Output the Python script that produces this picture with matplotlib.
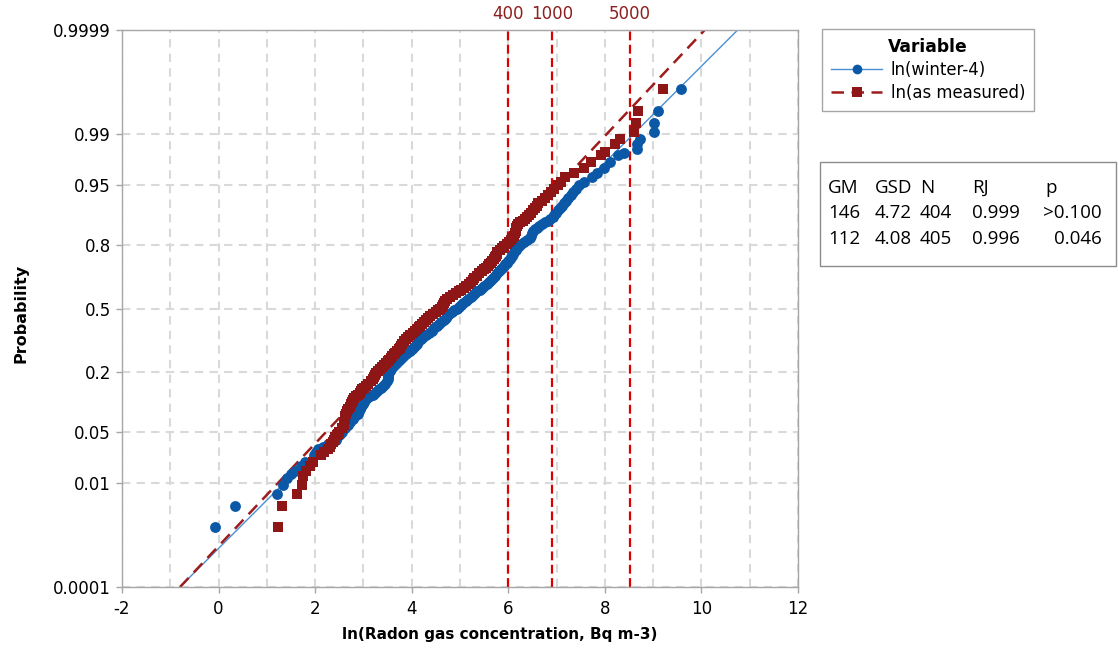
import numpy as np
import matplotlib
matplotlib.use("Agg")
import matplotlib.pyplot as plt
from matplotlib.lines import Line2D
from matplotlib.patches import Rectangle
from statistics import NormalDist

plt.rcParams["axes.unicode_minus"] = False

# ---------------- data ----------------
# ln(winter-4): cumulative probability and ln value of the plotted points
winter_p = [0.00173, 0.0042, 0.00668, 0.00915, 0.0116, 0.0135, 0.015, 0.0175, 0.02, 0.025,
            0.03, 0.035, 0.04, 0.045, 0.05, 0.06, 0.07, 0.08, 0.09, 0.10,
            0.11, 0.12, 0.13, 0.14, 0.15, 0.165, 0.18, 0.195, 0.21, 0.225,
            0.24, 0.255, 0.27, 0.285, 0.30, 0.32, 0.34, 0.36, 0.38, 0.40,
            0.42, 0.44, 0.46, 0.48, 0.50, 0.52, 0.54, 0.56, 0.58, 0.60,
            0.62, 0.64, 0.66, 0.68, 0.70, 0.715, 0.73, 0.745, 0.76, 0.775,
            0.79, 0.805, 0.82, 0.835, 0.85, 0.86, 0.87, 0.88, 0.89, 0.90,
            0.91, 0.92, 0.93, 0.94, 0.95, 0.955, 0.96, 0.965, 0.97, 0.975,
            0.98, 0.9810, 0.9834, 0.9859, 0.9884, 0.9909, 0.9933, 0.9958, 0.9983]
winter_x = [-0.08, 0.33, 1.20, 1.34, 1.41, 1.49, 1.58, 1.71, 1.78, 1.97,
            2.06, 2.27, 2.43, 2.49, 2.56, 2.68, 2.78, 2.88, 2.93, 2.99,
            3.03, 3.14, 3.24, 3.32, 3.40, 3.49, 3.50, 3.51, 3.57, 3.64,
            3.70, 3.78, 3.86, 3.96, 4.03, 4.10, 4.19, 4.29, 4.41, 4.48,
            4.56, 4.66, 4.74, 4.83, 4.93, 5.02, 5.12, 5.22, 5.31, 5.41,
            5.50, 5.60, 5.68, 5.77, 5.85, 5.91, 5.98, 6.03, 6.08, 6.12,
            6.18, 6.26, 6.39, 6.48, 6.51, 6.59, 6.70, 6.82, 6.92, 6.99,
            7.07, 7.15, 7.23, 7.35, 7.46, 7.57, 7.73, 7.83, 7.98, 8.10,
            8.27, 8.40, 8.66, 8.66, 8.73, 9.02, 9.02, 9.11, 9.58]
# further points in the dense central band
winter_mid_p = [0.0275, 0.0325, 0.0375, 0.0425, 0.0475, 0.055, 0.065, 0.075, 0.085, 0.095,
                0.105, 0.115, 0.125, 0.135, 0.145, 0.1575, 0.1725, 0.1875, 0.2025, 0.2175,
                0.2325, 0.2475, 0.2625, 0.2775, 0.2925, 0.31, 0.33, 0.35, 0.37, 0.39,
                0.41, 0.43, 0.45, 0.47, 0.49, 0.51, 0.53, 0.55, 0.57, 0.59,
                0.61, 0.63, 0.65, 0.67, 0.69, 0.7075, 0.7225, 0.7375, 0.7525, 0.7675,
                0.7825, 0.7975, 0.8125, 0.8275, 0.8425, 0.855, 0.865, 0.875, 0.885, 0.895,
                0.905, 0.915, 0.925, 0.935, 0.945]
winter_mid_x = [2.01, 2.16, 2.35, 2.46, 2.52, 2.62, 2.73, 2.83, 2.90, 2.96,
                3.01, 3.08, 3.19, 3.28, 3.36, 3.45, 3.50, 3.50, 3.54, 3.60,
                3.67, 3.74, 3.82, 3.91, 4.00, 4.06, 4.14, 4.24, 4.35, 4.44,
                4.52, 4.61, 4.70, 4.78, 4.88, 4.97, 5.07, 5.17, 5.26, 5.36,
                5.45, 5.55, 5.64, 5.72, 5.81, 5.88, 5.94, 6.00, 6.05, 6.10,
                6.15, 6.22, 6.32, 6.44, 6.50, 6.55, 6.64, 6.76, 6.87, 6.95,
                7.03, 7.11, 7.19, 7.29, 7.40]

# ln(as measured)
measured_p = [0.00173, 0.00419, 0.00666, 0.00913, 0.0125, 0.015, 0.0175, 0.02, 0.025, 0.03,
              0.035, 0.04, 0.045, 0.05, 0.06, 0.07, 0.08, 0.09, 0.10, 0.11,
              0.12, 0.13, 0.14, 0.15, 0.165, 0.18, 0.195, 0.21, 0.225, 0.24,
              0.255, 0.27, 0.285, 0.30, 0.32, 0.34, 0.36, 0.38, 0.40, 0.42,
              0.44, 0.46, 0.48, 0.50, 0.52, 0.54, 0.56, 0.58, 0.60, 0.62,
              0.64, 0.66, 0.68, 0.70, 0.715, 0.73, 0.745, 0.76, 0.775, 0.79,
              0.805, 0.82, 0.835, 0.85, 0.86, 0.87, 0.88, 0.89, 0.90, 0.91,
              0.92, 0.93, 0.94, 0.95, 0.955, 0.96, 0.965, 0.97, 0.975, 0.98,
              0.9819, 0.9859, 0.9884, 0.9909, 0.9933, 0.9958, 0.9983]
measured_x = [1.24, 1.31, 1.62, 1.72, 1.75, 1.81, 1.89, 1.95, 2.12, 2.26,
              2.33, 2.39, 2.45, 2.50, 2.59, 2.61, 2.64, 2.69, 2.74, 2.78,
              2.85, 2.92, 2.98, 3.05, 3.15, 3.22, 3.27, 3.34, 3.42, 3.50,
              3.57, 3.63, 3.70, 3.75, 3.79, 3.88, 3.97, 4.07, 4.15, 4.22,
              4.30, 4.38, 4.50, 4.59, 4.64, 4.68, 4.79, 4.92, 5.03, 5.13,
              5.23, 5.30, 5.40, 5.50, 5.57, 5.64, 5.71, 5.75, 5.77, 5.87,
              5.97, 6.05, 6.11, 6.15, 6.17, 6.20, 6.30, 6.39, 6.47, 6.56,
              6.62, 6.76, 6.88, 7.03, 7.09, 7.17, 7.36, 7.57, 7.71, 7.92,
              8.00, 8.21, 8.31, 8.60, 8.64, 8.69, 9.21]
measured_mid_p = [0.0275, 0.0325, 0.0375, 0.0425, 0.0475, 0.055, 0.065, 0.075, 0.085, 0.095,
                  0.105, 0.115, 0.125, 0.135, 0.145, 0.1575, 0.1725, 0.1875, 0.2025, 0.2175,
                  0.2325, 0.2475, 0.2625, 0.2775, 0.2925, 0.31, 0.33, 0.35, 0.37, 0.39,
                  0.41, 0.43, 0.45, 0.47, 0.49, 0.51, 0.53, 0.55, 0.57, 0.59,
                  0.61, 0.63, 0.65, 0.67, 0.69, 0.7075, 0.7225, 0.7375, 0.7525, 0.7675,
                  0.7825, 0.7975, 0.8125, 0.8275, 0.8425, 0.855, 0.865, 0.875, 0.885, 0.895,
                  0.905, 0.915, 0.925, 0.935, 0.945]
measured_mid_x = [2.19, 2.30, 2.36, 2.42, 2.48, 2.55, 2.60, 2.62, 2.66, 2.72,
                  2.76, 2.81, 2.88, 2.95, 3.01, 3.10, 3.19, 3.25, 3.30, 3.38,
                  3.46, 3.53, 3.60, 3.66, 3.73, 3.77, 3.83, 3.92, 4.02, 4.11,
                  4.18, 4.26, 4.34, 4.44, 4.55, 4.62, 4.66, 4.73, 4.85, 4.97,
                  5.08, 5.18, 5.26, 5.35, 5.45, 5.53, 5.60, 5.67, 5.73, 5.76,
                  5.82, 5.92, 6.01, 6.08, 6.13, 6.16, 6.18, 6.25, 6.34, 6.43,
                  6.51, 6.59, 6.69, 6.82, 6.95]

# fitted normal lines (mean, sd of ln values) as drawn in the reference
fit_mu = {"winter": 4.975, "measured": 4.635}
fit_sd = {"winter": 1.553, "measured": 1.461}

series_labels = ["ln(winter-4)", "ln(as measured)"]
ref_values = [400, 1000, 5000]
ref_labels = ["400", "1000", "5000"]

y_ticks = [0.0001, 0.01, 0.05, 0.2, 0.5, 0.8, 0.95, 0.99, 0.9999]
y_ticklabels = ["0.0001", "0.01", "0.05", "0.2", "0.5", "0.8", "0.95", "0.99", "0.9999"]
x_ticks = [-2, 0, 2, 4, 6, 8, 10, 12]

table_header = ["GM", "GSD", "N", "RJ", "p"]
table_rows = [["146", "4.72", "404", "0.999", ">0.100"],
              ["112", "4.08", "405", "0.996", "0.046"]]

# ---------------- colours ----------------
BLUE = "#0a58a6"
BLUE_LINE = "#4a8fd4"
RED = "#8e1616"
RED_LINE = "#9e1c1c"
VLINE = "#dc0000"
GRID = "#d9d9d9"
SPINE = "#a6a6a6"

# ---------------- probability scale ----------------
_nd = NormalDist()


def p_to_z(p):
    a = np.asarray(p, dtype=float)
    flat = [(_nd.inv_cdf(min(max(v, 1e-12), 1 - 1e-12)) if np.isfinite(v) else np.nan)
            for v in a.ravel()]
    return np.array(flat, dtype=float).reshape(a.shape)


def z_to_p(z):
    a = np.asarray(z, dtype=float)
    flat = [(_nd.cdf(v) if np.isfinite(v) else np.nan) for v in a.ravel()]
    return np.array(flat, dtype=float).reshape(a.shape)


W, H = 1118, 655
fig = plt.figure(figsize=(W / 100, H / 100), dpi=100)
ax = fig.add_axes([122 / W, 1 - 587 / H, 676 / W, 557 / H])
ax.set_yscale("function", functions=(p_to_z, z_to_p))
ax.set_ylim(0.0001, 0.9999)
ax.set_xlim(-2, 12)

FONT = "DejaVu Sans"

# grid
ax.set_xticks(x_ticks)
ax.set_xticks(np.arange(-1, 12, 2), minor=True)
ax.set_yticks(y_ticks)
ax.set_yticklabels(y_ticklabels)
ax.yaxis.set_minor_locator(matplotlib.ticker.NullLocator())
ax.grid(True, which="both", color=GRID, linestyle=(0, (4, 3)), linewidth=1.5, zorder=0)
ax.set_axisbelow(True)

ax.tick_params(axis="both", which="major", direction="out", length=4, width=1,
               color=SPINE, labelsize=12, labelcolor="black")
ax.tick_params(axis="x", which="minor", length=0)
for lab in ax.get_xticklabels() + ax.get_yticklabels():
    lab.set_fontfamily(FONT)
ax.tick_params(axis="x", pad=5)
ax.tick_params(axis="y", pad=4)
for s in ax.spines.values():
    s.set_color(SPINE)
    s.set_linewidth(1)

# reference vertical lines
for v, lab in zip(ref_values, ref_labels):
    xv = np.log(v)
    ax.axvline(xv, color=VLINE, linestyle=(0, (4, 2)), linewidth=1.6, zorder=1)
    ax.text(xv, 1.0 + 16 / 557, lab, transform=ax.get_xaxis_transform(), ha="center",
            va="center", fontsize=12, color="#8c1f1f", family=FONT)

# fitted lines
p_line = np.array([0.0001, 0.9999])
x_w = fit_mu["winter"] + fit_sd["winter"] * p_to_z(p_line)
x_m = fit_mu["measured"] + fit_sd["measured"] * p_to_z(p_line)
ax.plot(x_w, p_line, color=BLUE_LINE, linewidth=1.0, zorder=2)
ax.plot(x_m, p_line, color=RED_LINE, linewidth=1.8, linestyle=(0, (5, 3)), zorder=2)

# points
wx = winter_x + winter_mid_x
wp = winter_p + winter_mid_p
mx = measured_x + measured_mid_x
mp = measured_p + measured_mid_p
ax.plot(wx, wp, linestyle="none", marker="o", markersize=7.8,
        markerfacecolor=BLUE, markeredgewidth=0, zorder=3, clip_on=False)
ax.plot(mx, mp, linestyle="none", marker="s", markersize=7.5,
        markerfacecolor=RED, markeredgewidth=0, zorder=4, clip_on=False)

# axis labels
ax.set_xlabel("ln(Radon gas concentration, Bq m-3)", fontsize=11, fontweight="bold", family=FONT)
ax.xaxis.set_label_coords((500 - 122) / 676, (587 - 627) / 557)
ax.xaxis.label.set_va("top")
ax.set_ylabel("Probability", fontsize=11.5, fontweight="bold", family=FONT)
ax.yaxis.set_label_coords((28 - 122) / 676, (587 - 313) / 557)

# legend
handles = [
    Line2D([], [], color=BLUE_LINE, linewidth=1.0, marker="o", markersize=7,
           markerfacecolor=BLUE, markeredgewidth=0),
    Line2D([], [], color=RED_LINE, linewidth=1.8, linestyle=(0, (5, 3)), marker="s",
           markersize=7, markerfacecolor=RED, markeredgewidth=0),
]
leg = fig.legend(handles, series_labels, loc="upper left",
                 bbox_to_anchor=(822 / W, 1 - 29 / H), borderaxespad=0,
                 prop={"family": FONT, "size": 11.9}, title="Variable",
                 title_fontproperties={"family": FONT, "size": 12.3, "weight": "bold"},
                 fancybox=False, edgecolor=SPINE, framealpha=1, handlelength=3.1,
                 handletextpad=0.5, labelspacing=0.3, borderpad=0.55)
leg.get_frame().set_linewidth(1)

# stats table
fig.patches.append(Rectangle((820 / W, 1 - 266 / H), 296 / W, 104 / H,
                             transform=fig.transFigure, facecolor="white",
                             edgecolor="#8c8c8c", linewidth=1))
TFONT = "Open Sans"
col_x = [828, 875, 920, 972, 1045]
row_y = [188, 213, 239]
for j, h in enumerate(table_header):
    fig.text(col_x[j] / W, 1 - row_y[0] / H, h, ha="left", va="center",
             fontsize=13.5, family=TFONT)
for i, row in enumerate(table_rows):
    for j, val in enumerate(row):
        if j == 4:
            fig.text(1102 / W, 1 - row_y[i + 1] / H, val, ha="right", va="center",
                     fontsize=13.5, family=TFONT)
        else:
            fig.text(col_x[j] / W, 1 - row_y[i + 1] / H, val, ha="left", va="center",
                     fontsize=13.5, family=TFONT)

fig.savefig("out.png", dpi=100)
